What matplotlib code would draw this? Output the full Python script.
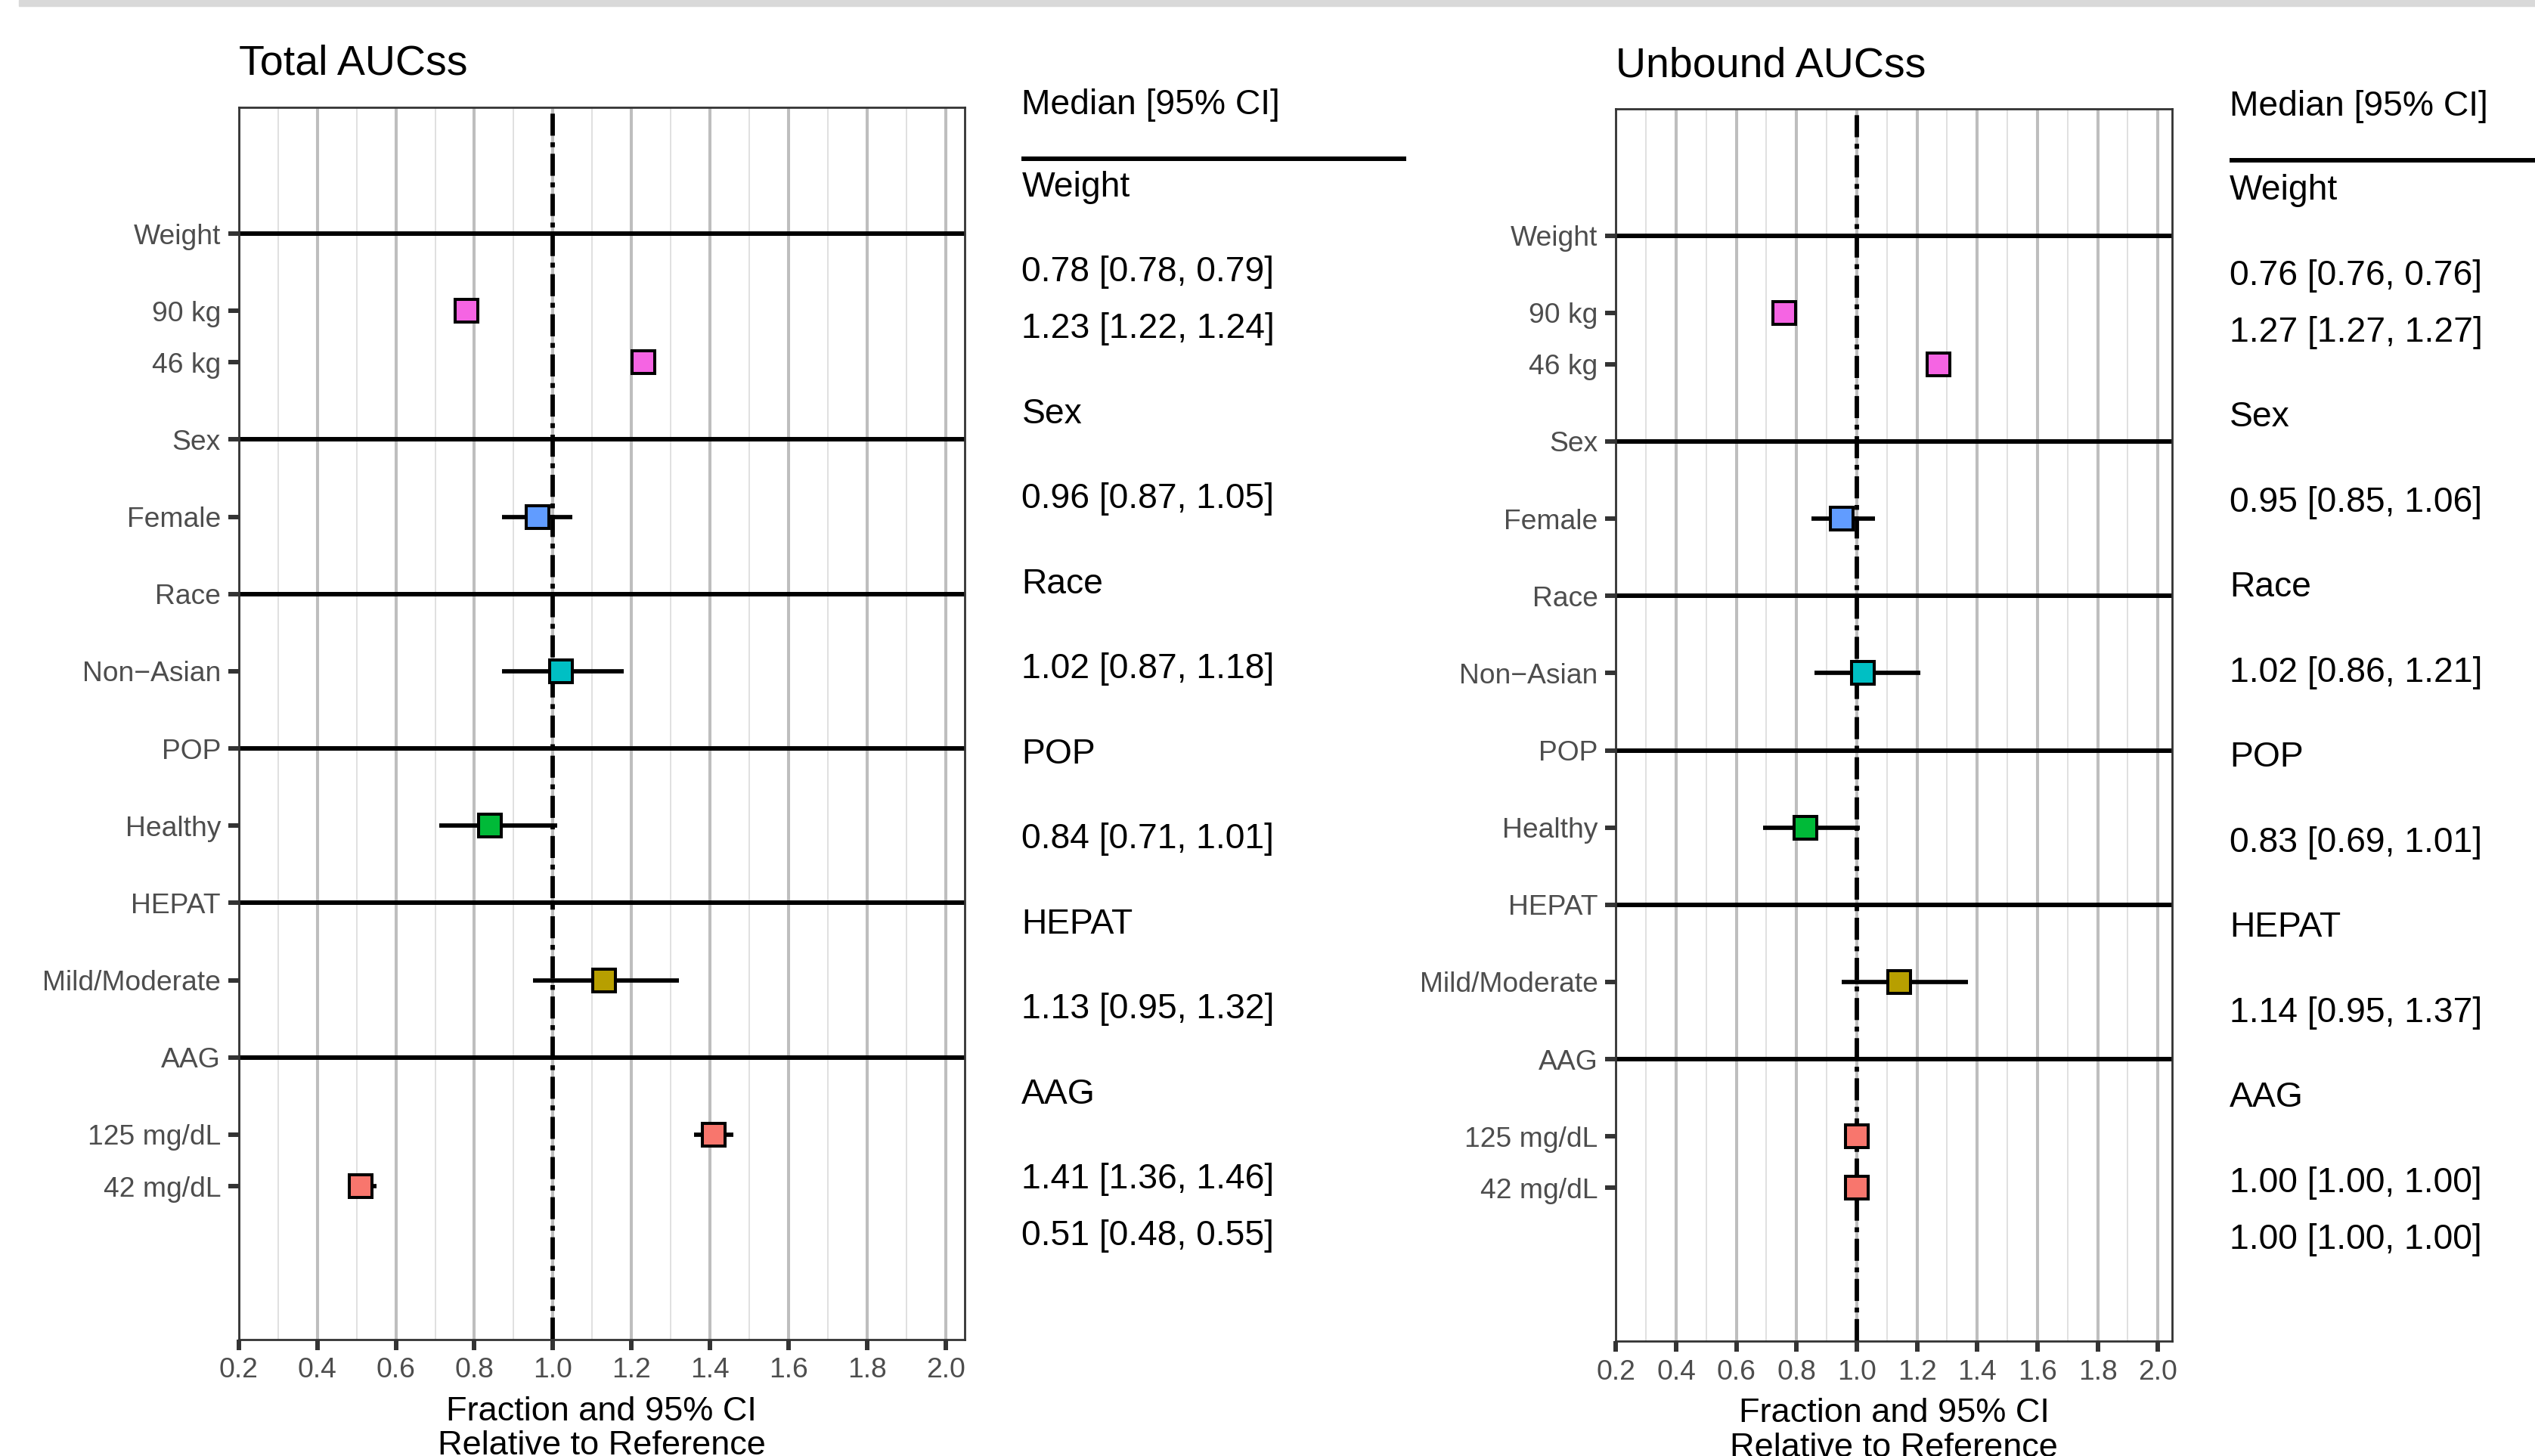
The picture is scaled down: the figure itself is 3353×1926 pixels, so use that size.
import numpy as np
import matplotlib.pyplot as plt
from matplotlib.patches import Rectangle

plt.rcParams['font.family'] = ['Liberation Sans', 'DejaVu Sans']

# covariate groups and their levels (top to bottom)
groups = ['Weight', 'Sex', 'Race', 'POP', 'HEPAT', 'AAG']
levels = [['90 kg', '46 kg'], ['Female'], ['Non\u2212Asian'], ['Healthy'],
          ['Mild/Moderate'], ['125 mg/dL', '42 mg/dL']]
group_colors = ['#F564E3', '#619CFF', '#00BFC4', '#00BA38', '#B79F00', '#F8766D']

# Total AUCss: median and 95% CI per level
total_med = [0.78, 1.23, 0.96, 1.02, 0.84, 1.13, 1.41, 0.51]
total_lo = [0.78, 1.22, 0.87, 0.87, 0.71, 0.95, 1.36, 0.48]
total_hi = [0.79, 1.24, 1.05, 1.18, 1.01, 1.32, 1.46, 0.55]

# Unbound AUCss
unbound_med = [0.76, 1.27, 0.95, 1.02, 0.83, 1.14, 1.00, 1.00]
unbound_lo = [0.76, 1.27, 0.85, 0.86, 0.69, 0.95, 1.00, 1.00]
unbound_hi = [0.76, 1.27, 1.06, 1.21, 1.01, 1.37, 1.00, 1.00]

x_ticks = [0.2, 0.4, 0.6, 0.8, 1.0, 1.2, 1.4, 1.6, 1.8, 2.0]
x_minor = [0.3, 0.5, 0.7, 0.9, 1.1, 1.3, 1.5, 1.7, 1.9]


def row_layout():
    """Header rows get 3 units of space, level rows 2."""
    header_pos, level_pos, level_color = [], [], []
    pos = 0
    for lv, col in zip(levels, group_colors):
        header_pos.append(pos)
        pos += 3
        for _ in lv:
            level_pos.append(pos)
            level_color.append(col)
            pos += 2
        pos += 1
    return header_pos, level_pos, level_color


def draw_forest(ax, med, lo, hi, title):
    hpos, lpos, lcol = row_layout()
    ax.set_xlim(0.2, 2.048)
    ax.set_ylim(42.95, -4.92)

    ax.set_xticks(x_ticks)
    ax.set_xticklabels([f'{t:.1f}' for t in x_ticks])
    ax.set_xticks(x_minor, minor=True)
    ax.xaxis.grid(True, which='major', color='#BEBEBE', lw=2.9)
    ax.xaxis.grid(True, which='minor', color='#DADADA', lw=1.2)
    ax.set_axisbelow(True)

    ticks = hpos + lpos
    labels = groups + [l for lv in levels for l in lv]
    ax.set_yticks(ticks)
    ax.set_yticklabels(labels)

    for y in hpos:
        ax.axhline(y, color='black', lw=4.3, zorder=2)
    ax.axvline(1.0, color='black', lw=4.2, ls=(0, (5, 1.5, 1.1, 1.5)), zorder=2)

    for m, l, h, y, c in zip(med, lo, hi, lpos, lcol):
        ax.plot([l, h], [y, y], color='black', lw=4.1, solid_capstyle='butt', zorder=3)
        ax.plot([m], [y], marker='s', ms=20.9, mfc=c, mec='black', mew=2.9,
                ls='none', zorder=4)

    ax.tick_params(which='major', length=10, width=4.3, color='#333333',
                   labelsize=26.8, labelcolor='#4D4D4D', pad=7)
    ax.tick_params(which='minor', length=0)
    for s in ax.spines.values():
        s.set_color('#333333')
        s.set_linewidth(2.0)
    ax.set_title(title, loc='left', fontsize=40, pad=30.8)
    ax.set_xlabel('Fraction and 95% CI\nRelative to Reference', fontsize=32.5,
                  labelpad=12, linespacing=1.14)


def draw_table(ax, med, lo, hi, head_y, rule_y):
    hpos, lpos, _ = row_layout()
    ax.set_xlim(0, 1)
    ax.axis('off')
    kw = dict(fontsize=33.3, ha='left', va='center', color='black')
    ax.text(0, head_y, 'Median [95% CI]', **kw)
    ax.plot([0, 1], [rule_y, rule_y], color='black', lw=4.3, solid_capstyle='butt',
            clip_on=False)
    for g, y in zip(groups, hpos):
        ax.text(0, y + 0.11, g, **kw)
    for m, l, h, y in zip(med, lo, hi, lpos):
        ax.text(0, y + 0.11, f'{m:.2f} [{l:.2f}, {h:.2f}]', **kw)


fig = plt.figure(figsize=(33.53, 19.26), dpi=100, facecolor='white')

# thin grey strip along the top edge
fig.patches.append(Rectangle((25 / 3353, 1 - 8 / 1926), 1, 8 / 1926,
                             transform=fig.transFigure, color='#D9D9D9', zorder=0))

ax1 = fig.add_axes([0.09415, 0.08011, 0.28641, 0.84642])
draw_forest(ax1, total_med, total_lo, total_hi, 'Total AUCss')

ax2 = fig.add_axes([0.63743, 0.07892, 0.21954, 0.84631])
draw_forest(ax2, unbound_med, unbound_lo, unbound_hi, 'Unbound AUCss')

tab1 = fig.add_axes([0.40304, 0, 0.15168, 1])
tab1.set_ylim(44.86, -6.499)
draw_table(tab1, total_med, total_lo, total_hi, -2.80, -0.91)

tab2 = fig.add_axes([0.87949, 0, 0.15168, 1])
tab2.set_ylim(44.75, -6.613)
draw_table(tab2, unbound_med, unbound_lo, unbound_hi, -2.86, -0.97)

fig.savefig('out.png', dpi=100)
